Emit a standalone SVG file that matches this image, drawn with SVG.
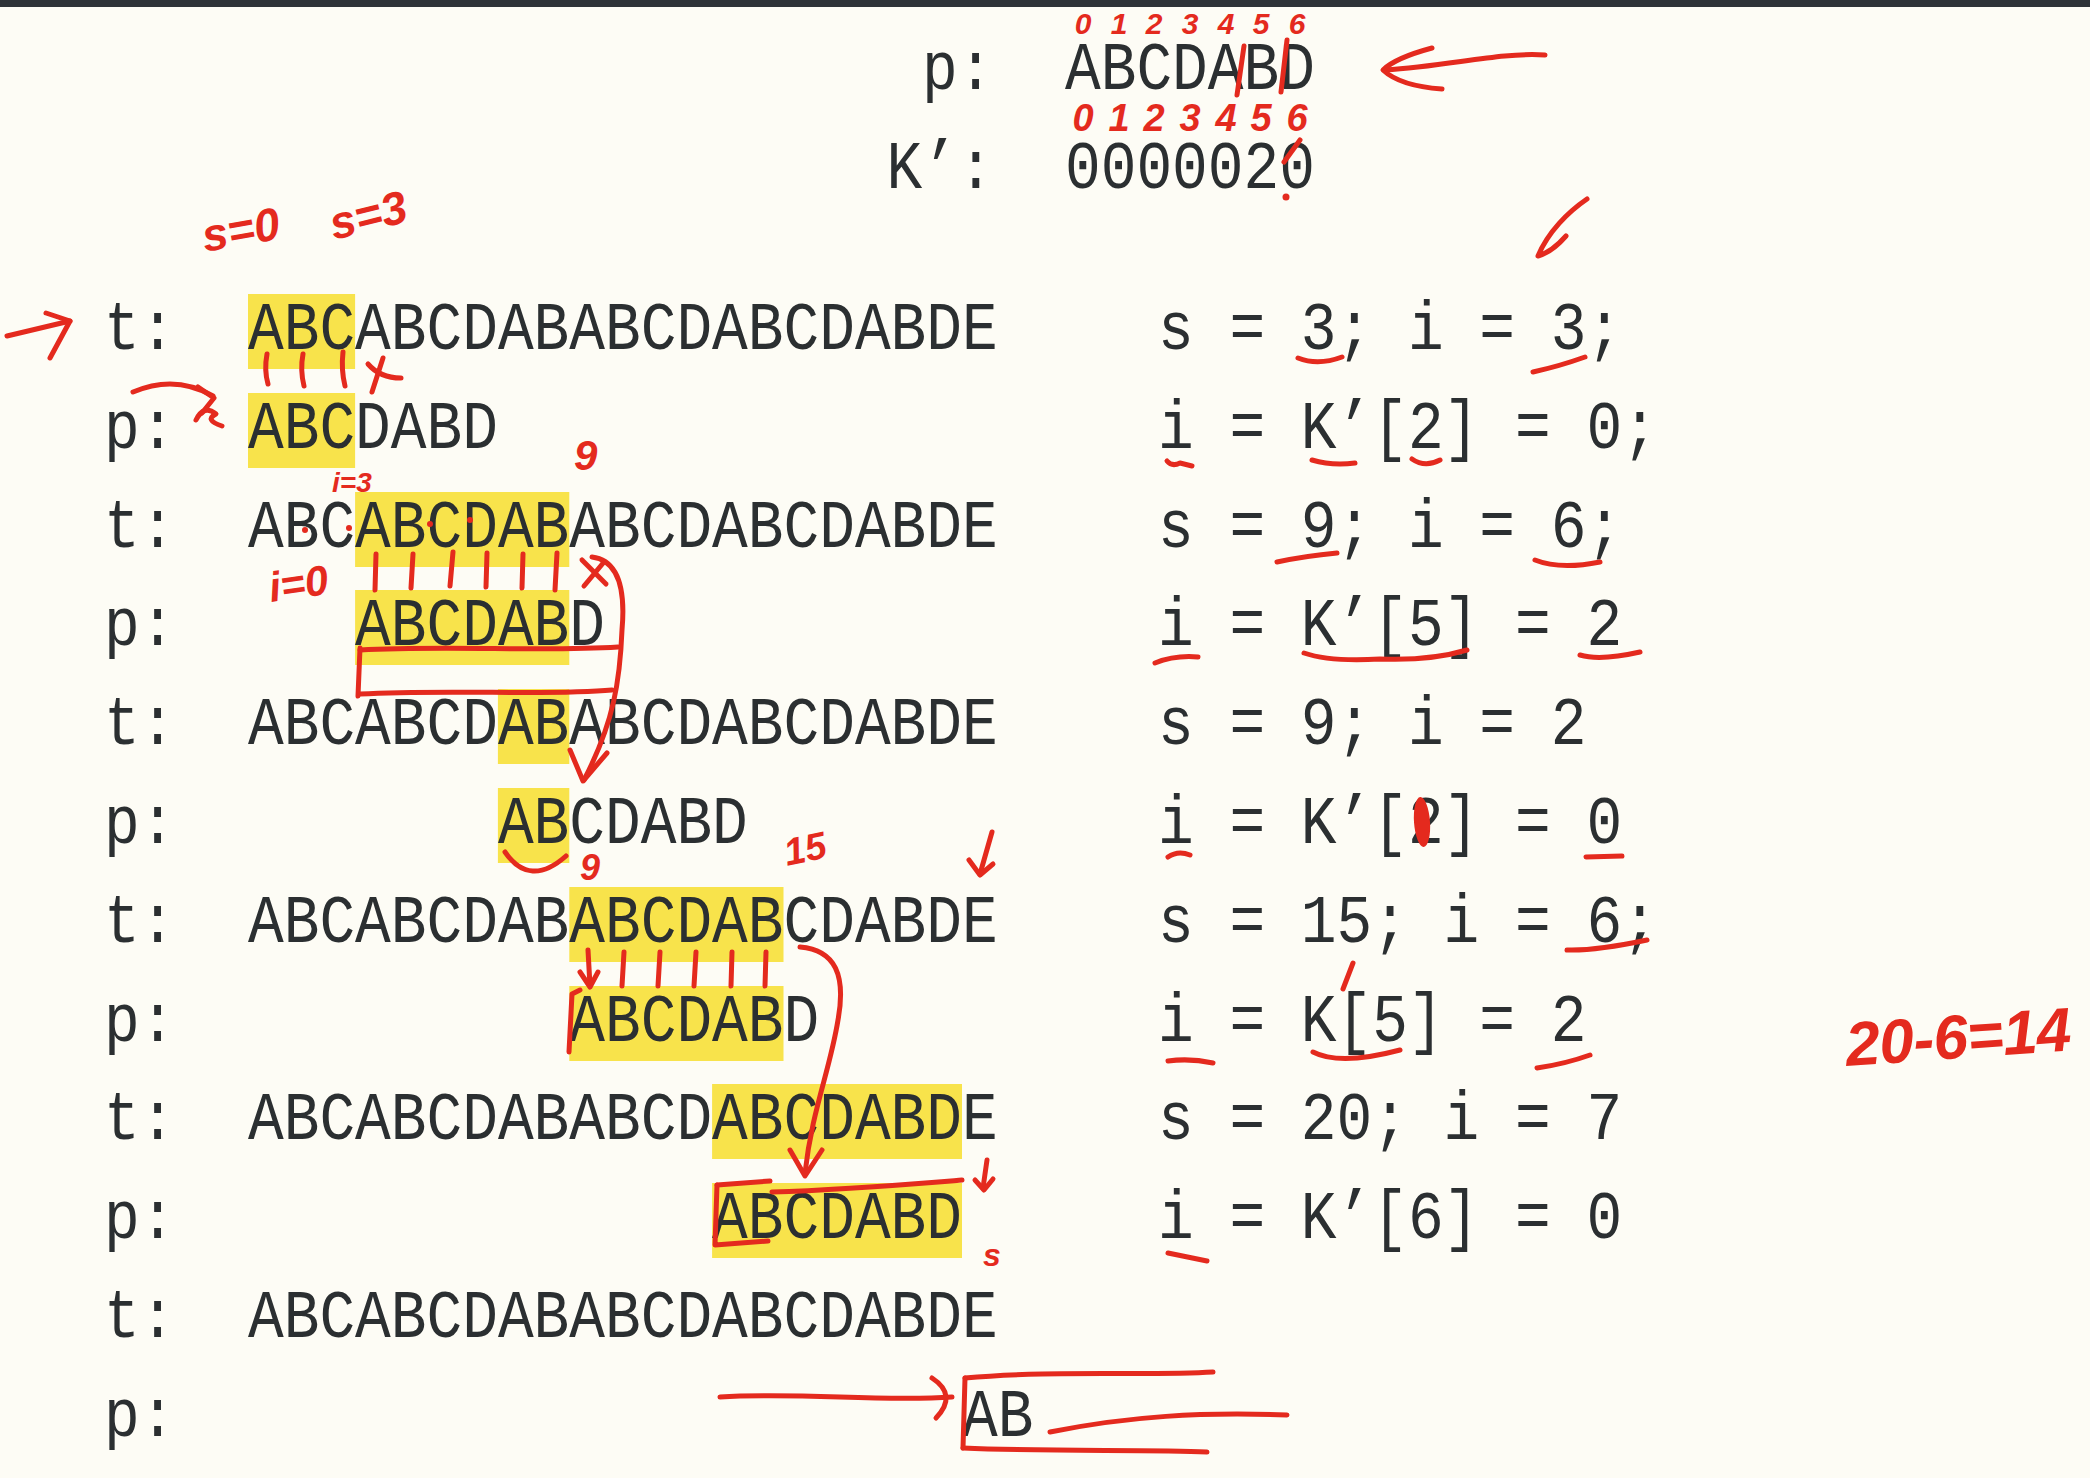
<svg xmlns="http://www.w3.org/2000/svg" width="2090" height="1478" viewBox="0 0 2090 1478">
<style>
.tx{font-family:"Liberation Mono","DejaVu Sans Mono",monospace;font-size:68px;fill:#2b2f31}
.hl{fill:#f8e34b}
.ink{fill:none;stroke:#e42a1e;stroke-width:5;stroke-linecap:round;stroke-linejoin:round}
.hw{font-family:"Liberation Sans","DejaVu Sans",sans-serif;font-style:italic;font-weight:bold;fill:#e42a1e}
</style>
<rect x="0" y="0" width="2090" height="1478" fill="#fdfcf5"/>
<rect x="0" y="0" width="2090" height="7" fill="#2e3338"/>

<g id="highlights">
<rect class="hl" x="248" y="294" width="107.1" height="75"/>
<rect class="hl" x="248" y="393" width="107.1" height="75"/>
<rect class="hl" x="355.1" y="492" width="214.2" height="75"/>
<rect class="hl" x="355.1" y="590" width="214.2" height="75"/>
<rect class="hl" x="497.9" y="689" width="71.4" height="75"/>
<rect class="hl" x="497.9" y="788" width="71.4" height="75"/>
<rect class="hl" x="569.3" y="887" width="214.2" height="75"/>
<rect class="hl" x="569.3" y="986" width="214.2" height="75"/>
<rect class="hl" x="712.1" y="1084" width="249.9" height="75"/>
<rect class="hl" x="712.1" y="1183" width="249.9" height="75"/>
</g>

<g id="header">
<text class="tx" x="922" y="89" textLength="71.4" lengthAdjust="spacingAndGlyphs">p:</text>
<text class="tx" x="1065" y="89" textLength="249.9" lengthAdjust="spacingAndGlyphs">ABCDABD</text>
<text class="tx" x="886.5" y="188" textLength="107.1" lengthAdjust="spacingAndGlyphs">K’:</text>
<text class="tx" x="1065" y="188" textLength="249.9" lengthAdjust="spacingAndGlyphs">0000020</text>
</g>

<g id="labels">
<text class="tx" x="104" y="349" textLength="71.4" lengthAdjust="spacingAndGlyphs">t:</text>
<text class="tx" x="104" y="447.8" textLength="71.4" lengthAdjust="spacingAndGlyphs">p:</text>
<text class="tx" x="104" y="546.6" textLength="71.4" lengthAdjust="spacingAndGlyphs">t:</text>
<text class="tx" x="104" y="645.4" textLength="71.4" lengthAdjust="spacingAndGlyphs">p:</text>
<text class="tx" x="104" y="744.2" textLength="71.4" lengthAdjust="spacingAndGlyphs">t:</text>
<text class="tx" x="104" y="843" textLength="71.4" lengthAdjust="spacingAndGlyphs">p:</text>
<text class="tx" x="104" y="941.8" textLength="71.4" lengthAdjust="spacingAndGlyphs">t:</text>
<text class="tx" x="104" y="1040.6" textLength="71.4" lengthAdjust="spacingAndGlyphs">p:</text>
<text class="tx" x="104" y="1139.4" textLength="71.4" lengthAdjust="spacingAndGlyphs">t:</text>
<text class="tx" x="104" y="1238.2" textLength="71.4" lengthAdjust="spacingAndGlyphs">p:</text>
<text class="tx" x="104" y="1337" textLength="71.4" lengthAdjust="spacingAndGlyphs">t:</text>
<text class="tx" x="104" y="1435.8" textLength="71.4" lengthAdjust="spacingAndGlyphs">p:</text>
</g>

<g id="strings">
<text class="tx" x="248" y="349" textLength="749.7" lengthAdjust="spacingAndGlyphs">ABCABCDABABCDABCDABDE</text>
<text class="tx" x="248" y="447.8" textLength="249.9" lengthAdjust="spacingAndGlyphs">ABCDABD</text>
<text class="tx" x="248" y="546.6" textLength="749.7" lengthAdjust="spacingAndGlyphs">ABCABCDABABCDABCDABDE</text>
<text class="tx" x="355.1" y="645.4" textLength="249.9" lengthAdjust="spacingAndGlyphs">ABCDABD</text>
<text class="tx" x="248" y="744.2" textLength="749.7" lengthAdjust="spacingAndGlyphs">ABCABCDABABCDABCDABDE</text>
<text class="tx" x="497.9" y="843" textLength="249.9" lengthAdjust="spacingAndGlyphs">ABCDABD</text>
<text class="tx" x="248" y="941.8" textLength="749.7" lengthAdjust="spacingAndGlyphs">ABCABCDABABCDABCDABDE</text>
<text class="tx" x="569.3" y="1040.6" textLength="249.9" lengthAdjust="spacingAndGlyphs">ABCDABD</text>
<text class="tx" x="248" y="1139.4" textLength="749.7" lengthAdjust="spacingAndGlyphs">ABCABCDABABCDABCDABDE</text>
<text class="tx" x="712.1" y="1238.2" textLength="249.9" lengthAdjust="spacingAndGlyphs">ABCDABD</text>
<text class="tx" x="248" y="1337" textLength="749.7" lengthAdjust="spacingAndGlyphs">ABCABCDABABCDABCDABDE</text>
<text class="tx" x="962" y="1435.8" textLength="71.4" lengthAdjust="spacingAndGlyphs">AB</text>
</g>

<g id="steps">
<text class="tx" x="1158" y="349" textLength="464.1" lengthAdjust="spacingAndGlyphs">s = 3; i = 3;</text>
<text class="tx" x="1158" y="447.8" textLength="499.8" lengthAdjust="spacingAndGlyphs">i = K’[2] = 0;</text>
<text class="tx" x="1158" y="546.6" textLength="464.1" lengthAdjust="spacingAndGlyphs">s = 9; i = 6;</text>
<text class="tx" x="1158" y="645.4" textLength="464.1" lengthAdjust="spacingAndGlyphs">i = K’[5] = 2</text>
<text class="tx" x="1158" y="744.2" textLength="428.4" lengthAdjust="spacingAndGlyphs">s = 9; i = 2</text>
<text class="tx" x="1158" y="843" textLength="464.1" lengthAdjust="spacingAndGlyphs">i = K’[2] = 0</text>
<text class="tx" x="1158" y="941.8" textLength="499.8" lengthAdjust="spacingAndGlyphs">s = 15; i = 6;</text>
<text class="tx" x="1158" y="1040.6" textLength="428.4" lengthAdjust="spacingAndGlyphs">i = K[5] = 2</text>
<text class="tx" x="1158" y="1139.4" textLength="464.1" lengthAdjust="spacingAndGlyphs">s = 20; i = 7</text>
<text class="tx" x="1158" y="1238.2" textLength="464.1" lengthAdjust="spacingAndGlyphs">i = K’[6] = 0</text>
</g>

<g id="ink-text">
<text class="hw" font-size="30" text-anchor="middle" x="1083 1119 1154 1190 1226 1261 1297" y="34">0123456</text>
<text class="hw" font-size="38" text-anchor="middle" x="1083 1119 1154 1190 1226 1261 1297" y="131">0123456</text>
<text class="hw" font-size="46" x="205" y="252" transform="rotate(-10 205 252)">s=0</text>
<text class="hw" font-size="46" x="334" y="240" transform="rotate(-14 334 240)">s=3</text>
<text class="hw" font-size="28" x="332" y="492">i=3</text>
<text class="hw" font-size="42" x="574" y="470">9</text>
<text class="hw" font-size="42" x="271" y="602" transform="rotate(-8 271 602)">i=0</text>
<text class="hw" font-size="36" x="580" y="880">9</text>
<text class="hw" font-size="38" x="787" y="866" transform="rotate(-12 787 866)">15</text>
<text class="hw" font-size="32" x="983" y="1266">s</text>
<text class="hw" font-size="62" x="1847" y="1066" textLength="226" transform="rotate(-4 1847 1066)">20-6=14</text>
</g>

<g id="ink">
<path class="ink" d="M1244,46 L1237,95"/>
<path class="ink" d="M1287,40 L1281,92"/>
<path class="ink" d="M1300,140 L1284,162"/>
<circle cx="1286" cy="197" r="3.5" fill="#e42a1e"/>
<path class="ink" d="M1545,55 C1500,52 1450,66 1385,70"/>
<path class="ink" d="M1432,48 Q1395,58 1383,70 Q1400,86 1442,89"/>
<path class="ink" d="M1587,199 C1568,212 1548,232 1538,256 Q1552,252 1566,236"/>
<path class="ink" d="M7,336 L70,321"/>
<path class="ink" d="M46,313 L70,321 L50,358"/>
<path class="ink" d="M267,354 Q264,370 268,384"/>
<path class="ink" d="M303,354 Q300,370 304,386"/>
<path class="ink" d="M343,352 Q341,370 345,386"/>
<path class="ink" d="M368,364 Q380,378 401,378"/>
<path class="ink" d="M383,358 L372,392"/>
<path class="ink" d="M133,392 Q175,374 213,396"/>
<path class="ink" d="M198,387 L214,398 L202,413"/>
<path class="ink" d="M196,420 Q204,404 216,414 Q204,420 222,426"/>
<circle cx="305" cy="530" r="3" fill="#e42a1e"/>
<circle cx="349" cy="528" r="3" fill="#e42a1e"/>
<circle cx="430" cy="524" r="3" fill="#e42a1e"/>
<circle cx="470" cy="520" r="3" fill="#e42a1e"/>
<path class="ink" d="M376,554 L375,590"/>
<path class="ink" d="M413,554 L411,588"/>
<path class="ink" d="M453,552 L450,586"/>
<path class="ink" d="M487,553 L486,587"/>
<path class="ink" d="M523,554 L522,588"/>
<path class="ink" d="M557,553 L555,590"/>
<path class="ink" d="M582,560 Q594,572 606,584"/>
<path class="ink" d="M604,562 L584,586"/>
<path class="ink" d="M360,650 C450,645 540,652 618,647"/>
<path class="ink" d="M360,694 C450,689 550,696 612,690"/>
<path class="ink" d="M360,648 L358,696"/>
<path class="ink" d="M592,557 C616,560 626,585 622,630 C620,680 614,722 584,780"/>
<path class="ink" d="M570,750 L583,781 L607,753"/>
<path class="ink" stroke-width="7" d="M505,852 Q530,888 566,856"/>
<path class="ink" d="M992,832 L980,874"/>
<path class="ink" d="M969,860 L980,875 L993,864"/>
<path class="ink" d="M588,950 L590,986"/>
<path class="ink" d="M580,972 L590,987 L598,972"/>
<path class="ink" d="M624,952 L622,986"/>
<path class="ink" d="M660,952 L658,986"/>
<path class="ink" d="M696,952 L694,986"/>
<path class="ink" d="M732,952 L731,986"/>
<path class="ink" d="M766,952 L765,986"/>
<path class="ink" d="M580,990 L572,994 L569,1052"/>
<path class="ink" d="M800,947 C836,950 846,976 838,1020 C830,1070 812,1110 805,1173"/>
<path class="ink" d="M790,1150 L805,1176 L822,1150"/>
<path class="ink" d="M717,1185 L770,1181"/>
<path class="ink" d="M772,1192 C840,1190 900,1185 962,1180"/>
<path class="ink" d="M717,1185 L715,1245 L768,1241"/>
<path class="ink" d="M987,1160 L983,1188"/>
<path class="ink" d="M975,1180 L984,1190 L993,1179"/>
<path class="ink" d="M720,1397 C800,1392 880,1402 952,1397"/>
<path class="ink" d="M932,1378 Q958,1395 936,1418"/>
<path class="ink" d="M965,1378 C1050,1370 1150,1376 1213,1372"/>
<path class="ink" d="M965,1378 L963,1448"/>
<path class="ink" d="M963,1448 C1050,1452 1150,1449 1207,1452"/>
<path class="ink" d="M1050,1432 C1130,1416 1200,1412 1287,1415"/>
<path class="ink" d="M1298,358 Q1318,366 1342,357"/>
<path class="ink" d="M1533,372 Q1560,366 1585,357"/>
<path class="ink" d="M1167,461 Q1172,467 1180,463 L1192,466"/>
<path class="ink" d="M1312,460 Q1332,466 1355,463"/>
<path class="ink" d="M1412,459 Q1425,468 1440,460"/>
<path class="ink" d="M1277,562 Q1305,556 1337,553"/>
<path class="ink" stroke-width="7" d="M1535,560 Q1560,570 1600,562"/>
<path class="ink" d="M1155,663 Q1175,655 1198,657"/>
<path class="ink" d="M1304,653 Q1330,662 1380,659 Q1430,661 1467,650"/>
<path class="ink" d="M1580,655 Q1600,661 1640,652"/>
<ellipse cx="1422" cy="822" rx="8" ry="25" fill="#e42a1e" transform="rotate(-4 1422 822)"/>
<path class="ink" d="M1168,857 Q1178,850 1190,855"/>
<path class="ink" d="M1586,857 L1622,856"/>
<path class="ink" d="M1567,950 Q1595,951 1647,940"/>
<path class="ink" d="M1353,963 L1343,989"/>
<path class="ink" d="M1168,1061 Q1190,1058 1213,1063"/>
<path class="ink" d="M1313,1052 Q1340,1066 1400,1050"/>
<path class="ink" d="M1537,1068 Q1565,1064 1590,1055"/>
<path class="ink" d="M1168,1253 L1207,1261"/>
</g>
</svg>
